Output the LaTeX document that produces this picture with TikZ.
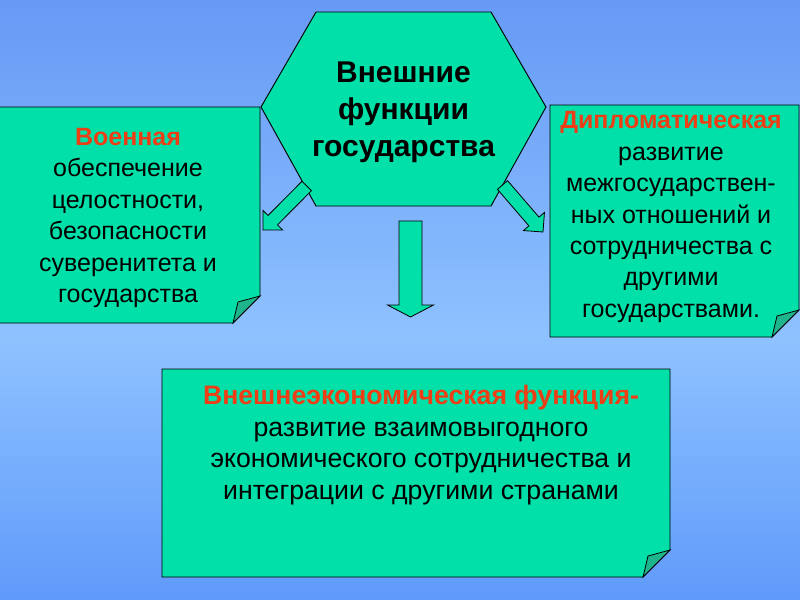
\documentclass[tikz,border=0pt]{standalone}
\usepackage{fontspec}
\setmainfont{Liberation Sans}
\usetikzlibrary{calc}

\definecolor{boxgreen}{RGB}{0,224,168}
\definecolor{foldgreen}{RGB}{30,180,140}
\definecolor{titlered}{RGB}{238,62,22}
\definecolor{bgtop}{RGB}{102,154,245}
\definecolor{bgmid}{RGB}{142,194,255}
\definecolor{bgbot}{RGB}{96,154,250}

\tikzset{
    card/.style={draw=black, line width=0.7pt, fill=boxgreen},
    foldtip/.style={draw=black, line width=0.6pt, fill=foldgreen},
    blockarrow/.style={draw=black, line width=0.6pt, fill=boxgreen, line join=miter},
    cardtext/.style={align=center, inner sep=0pt, text=black},
    headword/.style={text=titlered, font=\bfseries}
}

% card with a folded corner: x1, y1, x2, y2
\newcommand{\foldcard}[4]{%
    \draw[card] (#1,#2) -- (#3,#2) -- (#3,#4-27) -- (#3-27,#4) -- (#1,#4) -- cycle;
    \draw[foldtip] (#3,#4-27) -- (#3-22,#4-21) -- (#3-27,#4) -- cycle;
}

% block arrow: tail, tip, half shaft, half head, head length
\newcommand{\blockarrow}[5]{%
    \coordinate (hb) at ($(#2)!#5!(#1)$);
    \draw[blockarrow] ($(#1)!#3!90:(#2)$) -- ($(hb)!#3!90:(#2)$) -- ($(hb)!#4!90:(#2)$) -- (#2)
        -- ($(hb)!#4!-90:(#2)$) -- ($(hb)!#3!-90:(#2)$) -- ($(#1)!#3!-90:(#2)$) -- cycle;
}

\begin{document}
\begin{tikzpicture}[x=0.75pt, y=-0.75pt]
    \useasboundingbox (0,0) rectangle (800,600);
    \shade[top color=bgtop, bottom color=bgmid] (0,0) rectangle (800,340);
    \shade[top color=bgmid, bottom color=bgbot] (0,340) rectangle (800,600);

    % hexagon
    \draw[card] (316,12) -- (491,12) -- (546,107) -- (491,206) -- (316,206) -- (261,107) -- cycle;
    \node[cardtext, font=\fontsize{22.5}{27.75}\selectfont\bfseries] (hex) at (403.5,112)
        {Внешние\\функции\\государства};

    % arrows
    \coordinate (ltail) at (306.7,186);
    \coordinate (ltip) at (263,230);
    \coordinate (rtail) at (502.5,185);
    \coordinate (rtip) at (543,232);
    \coordinate (dtail) at (410.5,221);
    \coordinate (dtip) at (410.5,317);
    \blockarrow{ltail}{ltip}{5pt}{10.4pt}{10.4pt}
    \blockarrow{rtail}{rtip}{5pt}{10.4pt}{10.4pt}
    \blockarrow{dtail}{dtip}{8.6pt}{17.25pt}{9pt}

    % cards
    \foldcard{-5}{107}{260}{323}
    \node[cardtext, font=\fontsize{18.75}{23.6}\selectfont] (mil) at (128,218)
        {{\color{titlered}\bfseries Военная}\\обеспечение\\целостности,\\безопасности\\суверенитета и\\государства};

    \foldcard{550}{105}{799}{337}
    \node[cardtext, font=\fontsize{18.75}{23.6}\selectfont] (dip) at (671,217)
        {{\color{titlered}\bfseries Дипломатическая}\\развитие\\межгосударствен-\\ных отношений и\\сотрудничества с\\другими\\государствами.};

    \foldcard{162}{369}{670}{577}
    \node[cardtext, font=\fontsize{20}{23.6}\selectfont] (eco) at (421,445)
        {{\color{titlered}\bfseries Внешнеэкономическая функция-}\\развитие взаимовыгодного\\экономического сотрудничества и\\интеграции с другими странами};
\end{tikzpicture}
\end{document}
